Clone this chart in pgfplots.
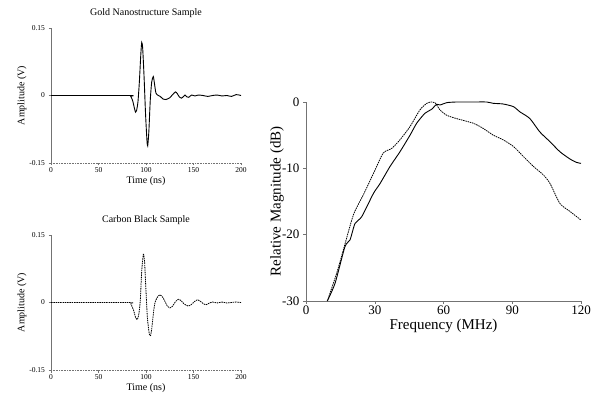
\documentclass[border=0pt]{standalone}
\usepackage{fontspec}
\setmainfont{Liberation Serif}
\usepackage{pgfplots}
\pgfplotsset{compat=1.18}
\pgfplotsset{
  smallax/.style={
    scale only axis, width=190pt, height=135pt,
    xmin=0, xmax=200, ymin=-0.15, ymax=0.15,
    axis lines=left, axis line style={-, black!55, line width=0.6pt},
    x axis line style={densely dotted},
    xtick={0,50,100,150,200}, ytick={-0.15,0,0.15},
    yticklabels={-0.15,0,0.15},
    tick align=outside, major tick length=2.5pt,
    tick style={black!55, line width=0.5pt},
    /pgf/number format/assume math mode=true,
    tick label style={font=\fontsize{7.5}{8}\selectfont},
    xticklabel style={yshift=1.5pt},
    label style={font=\fontsize{10}{12}\selectfont},
    xlabel={Time (ns)}, ylabel={Amplitude (V)},
    x label style={at={(axis description cs:0.5,-0.135)}, anchor=center},
    y label style={at={(axis description cs:-0.153,0.5)}, anchor=center},
    title style={at={(axis description cs:0.5,1.067)}, anchor=center, font=\fontsize{10}{12}\selectfont},
    clip=false,
  }
}
\begin{document}
\begin{tikzpicture}
\path[use as bounding box] (0,0) rectangle (601pt,401pt);
% Top: Gold
\begin{axis}[smallax, at={(51pt,238pt)}, anchor=south west, title={Gold Nanostructure Sample}]
\addplot[black, line width=0.9pt, smooth, tension=0.4] coordinates {
(0,0) (82,0) (84,-0.002) (86,-0.012) (88,-0.03) (89,-0.037) (90,-0.034) (91.5,-0.015) (93,0.03) (94.5,0.09) (95.5,0.118) (96.5,0.105) (98,0.04) (99.5,-0.04) (101,-0.1) (101.8,-0.112) (103,-0.08) (104.5,-0.01) (106,0.03) (107.7,0.042) (109,0.025) (110.5,0.005) (113,0) (115,-0.002) (118,-0.008) (121,-0.009) (125,-0.005) (128,0.002) (131,0.008) (133,0.004) (135,-0.003) (137.5,-0.006) (139.5,-0.002) (141,0.001) (143,-0.003) (145,-0.004) (148,0.001) (151.5,-0.001) (155,0.001) (160,0) (165,-0.002) (170,0) (175,0.001) (180,-0.001) (185,0) (190,-0.002) (195,0.002) (200,0)
};
\end{axis}
% Bottom: Carbon
\begin{axis}[smallax, at={(51pt,31pt)}, anchor=south west, title={Carbon Black Sample}]
\addplot[black, line width=0.8pt, dash pattern=on 1.5pt off 0.8pt, smooth, tension=0.4] coordinates {
(0,0) (81,0) (84,-0.003) (87,-0.018) (89,-0.033) (90.9,-0.038) (92.5,-0.025) (94,0.005) (95.5,0.07) (97.2,0.107) (98.5,0.09) (100,0.025) (101.5,-0.035) (103.5,-0.07) (104.9,-0.073) (106.5,-0.05) (108,-0.02) (109.5,0) (112,0.012) (114.7,0.017) (117.5,0.012) (120,0.002) (122.5,-0.008) (125.3,-0.012) (128,-0.008) (131,0.002) (134,0.007) (137,0.004) (140,-0.003) (144.5,-0.008) (148,-0.004) (151,0.002) (154,0.006) (157,0.003) (160,-0.002) (163,-0.005) (166,-0.002) (170,0.001) (175,-0.001) (180,0.001) (185,-0.001) (190,0) (195,0.001) (200,0)
};
\end{axis}
% Right: spectra
\begin{axis}[
  scale only axis, width=275pt, height=199pt,
  at={(306pt,100pt)}, anchor=south west,
  xmin=0, xmax=120, ymin=-30, ymax=0,
  axis lines=left, axis line style={-, black!55, line width=0.6pt},
  xtick={0,30,60,90,120}, ytick={-30,-20,-10,0},
  tick align=outside, major tick length=3pt,
  tick style={black!55, line width=0.5pt},
  /pgf/number format/assume math mode=true,
  tick label style={font=\fontsize{13}{15}\selectfont},
  xticklabel style={yshift=1.5pt},
  label style={font=\fontsize{15}{17}\selectfont},
  xlabel={Frequency (MHz)}, ylabel={Relative Magnitude (dB)},
  x label style={at={(axis description cs:0.5,-0.125)}, anchor=center},
  y label style={at={(axis description cs:-0.105,0.5)}, anchor=center},
  clip=false,
]
\addplot[black, line width=0.9pt, smooth, tension=0.4] coordinates {
(9.3,-30) (12.7,-27.3) (17,-21.8) (19.2,-20.8) (21.4,-18.3) (24.3,-17.3) (29.4,-13.8) (32.3,-12.3) (36.7,-9.7) (41,-7.5) (45.4,-5) (48.3,-3.2) (51.9,-1.7) (54.8,-1.1) (57,-0.35) (58.5,-0.45) (61.4,-0.1) (65.7,0) (73,0) (78.8,0) (81.7,-0.2) (86,-0.3) (90.5,-0.7) (93.4,-1.5) (97.7,-2.5) (102,-4.5) (106.5,-6) (110.8,-7.5) (115.2,-8.6) (118,-9.1) (120,-9.25)
};
\addplot[black, line width=0.8pt, dash pattern=on 1.5pt off 0.8pt, smooth, tension=0.4] coordinates {
(9.3,-30) (13.4,-25.8) (16.3,-22.3) (20.7,-17) (25,-14) (29.4,-10.8) (33.7,-7.7) (37.4,-7) (41,-5.7) (45.4,-3.7) (49.7,-1.2) (52.7,-0.2) (54.8,0) (56.3,-0.1) (58.5,-1.2) (61.4,-2) (65.7,-2.5) (73,-3.2) (77.4,-4) (81.7,-5) (86,-5.7) (90.5,-6.7) (94.8,-8.2) (99.2,-9.7) (103.6,-11) (106.5,-12.3) (110.8,-15.3) (115.2,-16.5) (120,-17.8)
};
\end{axis}
\end{tikzpicture}
\end{document}
